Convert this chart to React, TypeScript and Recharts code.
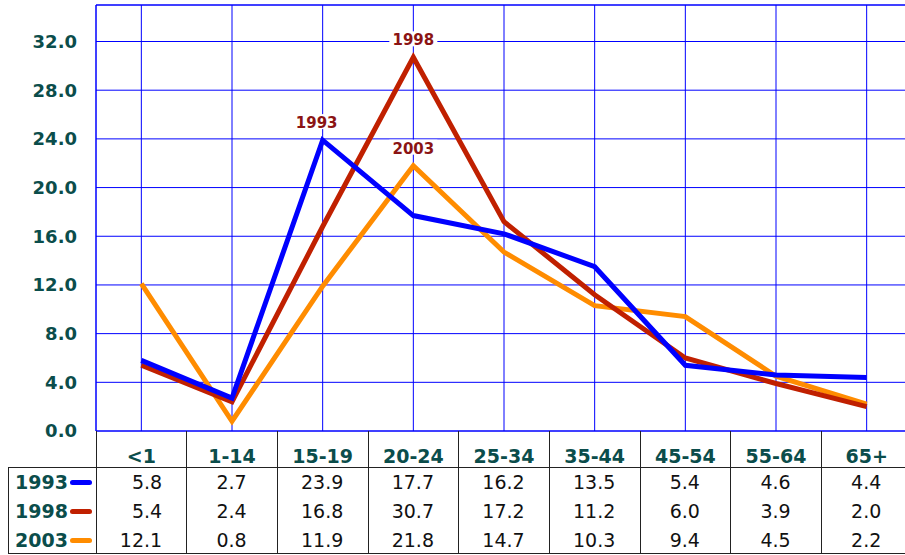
import { LineChart, Line, XAxis, YAxis, CartesianGrid, ReferenceLine, LabelList } from "recharts";

const categories = ["<1", "1-14", "15-19", "20-24", "25-34", "35-44", "45-54", "55-64", "65+"];
const years = ["1993", "1998", "2003"];
const values1993 = [5.8, 2.7, 23.9, 17.7, 16.2, 13.5, 5.4, 4.6, 4.4];
const values1998 = [5.4, 2.4, 16.8, 30.7, 17.2, 11.2, 6.0, 3.9, 2.0];
const values2003 = [12.1, 0.8, 11.9, 21.8, 14.7, 10.3, 9.4, 4.5, 2.2];
const seriesColors = ["#0000ff", "#c02000", "#ff8c00"];
const peakLabelIndex = [2, 3, 3]; // where the year tag sits on each line
const peakLabelShift = [-6, 0, 0];
const yTicks = [0, 4, 8, 12, 16, 20, 24, 28, 32];

const allValues = [values1993, values1998, values2003];

const data = categories.map((cat, i) => ({
  cat,
  y1993: values1993[i],
  y1998: values1998[i],
  y2003: values2003[i],
}));

const FONT = "'DejaVu Sans', Verdana, sans-serif";
const TEAL = "#0b4d4b";
const GRID = "#0000ff";
const COL_W = 816 / 9;

function makeYearLabel(year: string, idx: number, shift: number) {
  return (props: any) => {
    const { x, y, index } = props;
    if (index !== idx) return null;
    const cx = x + shift;
    return (
      <g>
        <rect x={cx - 24} y={y - 26} width={48} height={15} fill="#fff" />
        <text
          x={cx}
          y={y - 12}
          textAnchor="middle"
          fontFamily={FONT}
          fontWeight="bold"
          fontSize={15}
          fill="#8b1414"
        >
          {year}
        </text>
      </g>
    );
  };
}

function CatTick(props: any) {
  const { x, y, payload } = props;
  return (
    <text x={x} y={y + 32} textAnchor="middle" fontFamily={FONT} fontWeight="bold" fontSize={19} fill={TEAL}>
      {payload.value}
    </text>
  );
}

function DataTable() {
  const lineStyle = { position: "absolute" as const, background: "#222" };
  const vLines = [];
  for (let k = 0; k <= 9; k++) {
    vLines.push(
      <div key={"v" + k} style={{ ...lineStyle, left: 87.5 + k * COL_W, top: 0, width: 1, height: 123 }} />
    );
  }
  return (
    <div style={{ position: "absolute", left: 8, top: 431, width: 905, height: 124, fontFamily: FONT }}>
      {vLines}
      <div style={{ ...lineStyle, left: 0, top: 36, width: 1, height: 87 }} />
      <div style={{ ...lineStyle, left: 0, top: 36, width: 905, height: 1 }} />
      <div style={{ ...lineStyle, left: 0, top: 122, width: 905, height: 1 }} />
      {years.map((yr, r) => (
        <div key={yr}>
          <div
            style={{
              position: "absolute",
              left: 7,
              top: 37 + r * 29,
              height: 29,
              lineHeight: "29px",
              fontSize: 19,
              fontWeight: "bold",
              color: TEAL,
            }}
          >
            {yr}
          </div>
          <div
            style={{
              position: "absolute",
              left: 62,
              top: 37 + r * 29 + 12,
              width: 22,
              height: 5,
              borderRadius: 3,
              background: seriesColors[r],
            }}
          />
          {allValues[r].map((v, c) => (
            <div
              key={c}
              style={{
                position: "absolute",
                left: 87.5 + c * COL_W,
                top: 37 + r * 29,
                width: c === 0 ? COL_W - 24 : COL_W,
                height: 29,
                lineHeight: "29px",
                fontSize: 19,
                color: "#111",
                textAlign: c === 0 ? "right" : "center",
              }}
            >
              {v.toFixed(1)}
            </div>
          ))}
        </div>
      ))}
    </div>
  );
}

export default function App() {
  const keys = ["y1993", "y1998", "y2003"];
  // draw order: orange first, blue on top
  const order = [2, 1, 0];
  return (
    <div style={{ position: "absolute", left: 0, top: 0, width: 905, height: 555, overflow: "hidden", background: "#fff" }}>
      <LineChart width={920} height={467} data={data} margin={{ top: 5, right: 8, left: 0, bottom: 0 }}>
        <CartesianGrid stroke={GRID} strokeWidth={1} />
        <XAxis
          dataKey="cat"
          height={36}
          padding={{ left: COL_W / 2, right: COL_W / 2 }}
          axisLine={{ stroke: GRID }}
          tickLine={false}
          tickSize={0}
          tickMargin={0}
          tick={<CatTick />}
          interval={0}
        />
        <YAxis
          width={96}
          domain={[0, 35]}
          ticks={yTicks}
          allowDataOverflow
          axisLine={{ stroke: GRID }}
          tickLine={false}
          tickSize={0}
          tickMargin={19}
          tickFormatter={(v: number) => v.toFixed(1)}
          tick={{ fontFamily: FONT, fontWeight: "bold", fontSize: 18, fill: TEAL }}
        />
        <ReferenceLine y={35} stroke={GRID} strokeWidth={1} />
        {order.map((s) => (
          <Line
            key={keys[s]}
            dataKey={keys[s]}
            stroke={seriesColors[s]}
            strokeWidth={5}
            dot={false}
            activeDot={false}
            isAnimationActive={false}
          >
            <LabelList dataKey={keys[s]} content={makeYearLabel(years[s], peakLabelIndex[s], peakLabelShift[s])} />
          </Line>
        ))}
      </LineChart>
      <DataTable />
    </div>
  );
}
